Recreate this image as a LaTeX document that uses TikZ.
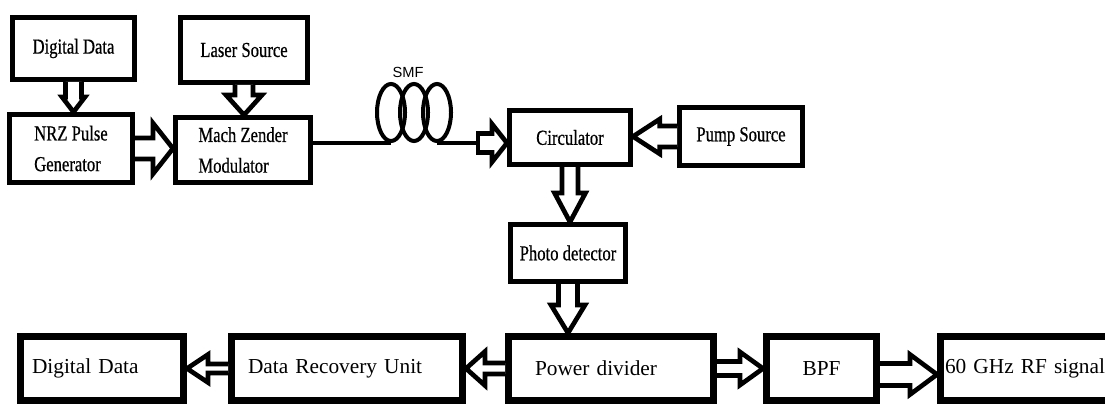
\documentclass[tikz,border=0pt]{standalone}
\usepackage{fontspec}
\setmainfont{Liberation Serif}
\newfontfamily\narrowserif[FakeStretch=0.78,FakeBold=0.6]{Liberation Serif}
\newfontfamily\smffont{Liberation Sans}
\usetikzlibrary{calc}
\tikzset{
  tbox/.style={draw, line width=4pt, font=\narrowserif\fontsize{16}{23}\selectfont, align=left, inner sep=2pt},
  bbox/.style={draw, line width=5pt, font=\fontsize{16}{19}\selectfont, align=left, minimum height=48.25pt},
  fiber/.style={line width=3pt},
  % hollow block arrow: shaft half width / head half width / head length
  fat/.style args={#1/#2/#3}{draw, line width=3.5pt, fill=white, line join=miter,
    to path={
      ($(\tikztotarget)!#3!(\tikztostart)$) coordinate (fathb)
      ($(\tikztostart)!#1!90:(\tikztotarget)$)
      -- ($(fathb)!#1!90:(\tikztotarget)$)
      -- ($(fathb)!#2!90:(\tikztotarget)$)
      -- (\tikztotarget)
      -- ($(fathb)!#2!-90:(\tikztotarget)$)
      -- ($(fathb)!#1!-90:(\tikztotarget)$)
      -- ($(\tikztostart)!#1!-90:(\tikztotarget)$)}}
}

\begin{document}
\begin{tikzpicture}[x=0.75pt,y=-0.75pt]
  \useasboundingbox (0,0) rectangle (1105,406);
  % transmitter blocks
  \node[tbox, minimum width=91.25pt, minimum height=46.25pt] (data) at (73.5,48.5) {Digital Data};
  \node[tbox, minimum width=95pt, minimum height=48.5pt] (laser) at (244,50) {Laser Source};
  \node[tbox, minimum width=92pt, minimum height=50.75pt] (nrz) at (71,148.5) {NRZ Pulse\\Generator};
  \node[tbox, minimum width=101pt, minimum height=48.5pt] (mzm) at (243,150) {Mach Zender\\Modulator};
  % fiber span with coil
  \coordinate (coilin) at (391,143);
  \coordinate (coilout) at (437,143);
  \coordinate (fibend) at (478,143);
  \draw[fiber] (mzm.east |- coilin) -- (coilin);
  \foreach \cx in {391,414,437}{%
    \draw[fiber] (\cx,112.5) ellipse [x radius=10.5pt, y radius=21.4pt];}
  \draw[fiber] (coilout) -- (fibend);
  \node[font=\smffont\fontsize{11}{13}\selectfont] (smf) at (408,72) {SMF};
  % receiver blocks
  \node[tbox, minimum width=90.5pt, minimum height=40.25pt] (circ) at (570,137.5) {Circulator};
  \node[tbox, minimum width=92pt, minimum height=43.25pt] (pump) at (741,136.5) {Pump Source};
  \node[tbox, minimum width=86pt, minimum height=42.5pt] (det) at (568,253) {Photo detector};
  % bottom row
  \node[bbox, text width=105pt, inner xsep=8.75pt] (dataout) at (102,368.5) {Digital Data};
  \node[bbox, text width=148.5pt, inner xsep=12.5pt] (dru) at (347,368.5) {Data Recovery Unit};
  \node[bbox, text width=114pt, inner xsep=20pt] (split) at (611,368.5) {Power divider};
  \node[bbox, minimum width=82.75pt, align=center] (bpf) at (821.5,368.5) {BPF};
  \node[bbox, text width=160pt, inner xsep=3.5pt, anchor=west] (rf) at (937,368.5) {60 GHz RF signal};
  \coordinate (bpfout) at ([yshift=-4.5pt]bpf.east);
  % block arrows
  \draw[fat=6pt/8.6pt/11.25pt] (data.south) to (data.south |- nrz.north);
  \draw[fat=6.75pt/13.5pt/15pt] (laser.south) to (laser.south |- mzm.north);
  \draw[fat=7.9pt/19pt/15pt] (nrz.east) to (nrz.east -| mzm.west);
  \draw[fat=7.1pt/14.25pt/11.25pt] (fibend) to (fibend -| circ.west);
  \draw[line width=3.5pt] ([yshift=8.85pt]fibend) -- ([yshift=-8.85pt]fibend);
  \draw[fat=7.9pt/13pt/20pt] (pump.west) to (pump.west -| circ.east);
  \draw[fat=6pt/11.6pt/21.75pt] (circ.south) to (circ.south |- det.north);
  \draw[fat=7.1pt/12.75pt/21pt] (det.south) to (det.south |- split.north);
  \draw[fat=4.1pt/12.75pt/14.25pt] (split.west) to (split.west -| dru.east);
  \draw[fat=3.4pt/10.5pt/15.75pt] (dru.west) to (dru.west -| dataout.east);
  \draw[fat=5.25pt/12.4pt/17.25pt] (split.east) to (split.east -| bpf.west);
  \draw[fat=8.25pt/15pt/20.25pt] (bpfout) to (bpfout -| rf.west);
\end{tikzpicture}
\end{document}
